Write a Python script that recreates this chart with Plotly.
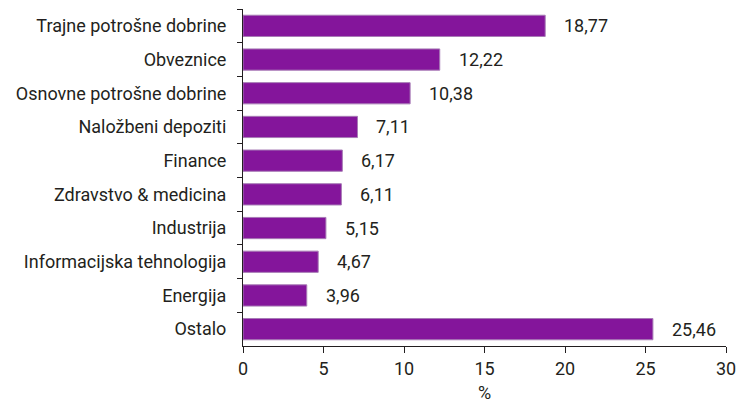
import plotly.graph_objects as go

categories = ["Trajne potrošne dobrine", "Obveznice", "Osnovne potrošne dobrine",
              "Naložbeni depoziti", "Finance", "Zdravstvo & medicina", "Industrija",
              "Informacijska tehnologija", "Energija", "Ostalo"]
values = [18.77, 12.22, 10.38, 7.11, 6.17, 6.11, 5.15, 4.67, 3.96, 25.46]
labels = [f"{v:.2f}".replace(".", ",") for v in values]
x_title = "%"

font = "Roboto, DejaVu Sans, sans-serif"
fs = 18
fig = go.Figure(go.Bar(
    x=values, y=categories, orientation="h",
    marker=dict(color="#84159b", line=dict(color="#a77bb5", width=1)),
    text=labels, textposition="none", hoverinfo="skip",
))
for c, v, t in zip(categories, values, labels):
    fig.add_annotation(x=v, y=c, text=t, showarrow=False, xanchor="left",
                       xshift=17, font=dict(family=font, size=fs, color="#231f20"))
fig.add_annotation(x=0.5, y=0, xref="paper", yref="paper", text=x_title,
                   showarrow=False, xanchor="center", yanchor="top", yshift=-34,
                   font=dict(family=font, size=fs, color="#231f20"))

fig.update_layout(
    width=736, height=403,
    margin=dict(l=243, r=10, t=9, b=57),
    plot_bgcolor="white", paper_bgcolor="white",
    bargap=0.37, showlegend=False,
    font=dict(family=font, size=fs, color="#231f20"),
    separators=",.",
)
fig.update_xaxes(range=[0, 30], dtick=5, showgrid=False, zeroline=False,
                 showline=True, linecolor="#231f20", linewidth=1,
                 ticks="outside", ticklen=6, tickcolor="#231f20",
                 automargin=False, ticklabeloverflow="allow")
fig.update_yaxes(autorange="reversed", showgrid=False, zeroline=False,
                 showline=True, linecolor="#231f20", linewidth=1,
                 ticks="outside", ticklen=5, tickcolor="#231f20",
                 automargin=False,
                 tickson="boundaries", ticklabelstandoff=12)
fig.write_html("out.html", config={"displayModeBar": False})

with open("out.html", encoding="utf-8") as f:
    html = f.read()
html = html.replace("<body>", '<body style="margin:0;padding:0;overflow:hidden">', 1)
with open("out.html", "w", encoding="utf-8") as f:
    f.write(html)
